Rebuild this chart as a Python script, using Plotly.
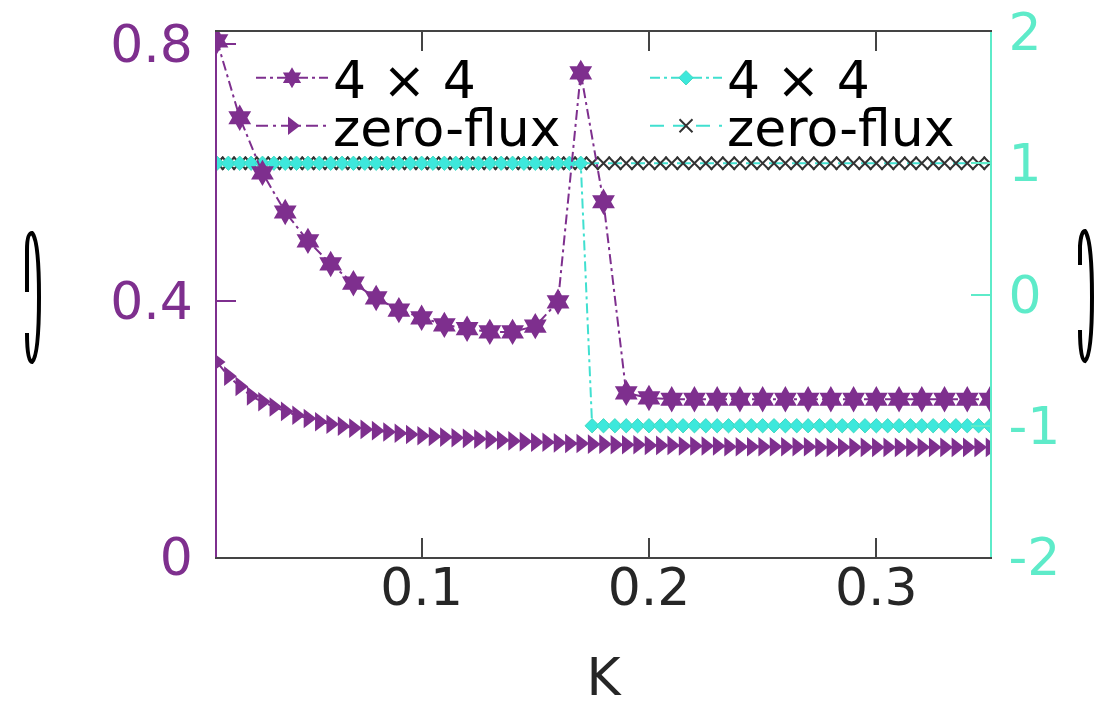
import plotly.graph_objects as go

# ---------------- data ----------------
K_coarse = [0.01, 0.02, 0.03, 0.04, 0.05, 0.06, 0.07, 0.08, 0.09, 0.10,
            0.11, 0.12, 0.13, 0.14, 0.15, 0.16, 0.17, 0.18, 0.19, 0.20,
            0.21, 0.22, 0.23, 0.24, 0.25, 0.26, 0.27, 0.28, 0.29, 0.30,
            0.31, 0.32, 0.33, 0.34, 0.35]

left_4x4 = [0.805, 0.685, 0.599, 0.538, 0.493, 0.457, 0.427, 0.404, 0.385, 0.373,
            0.362, 0.356, 0.351, 0.351, 0.360, 0.398, 0.755, 0.554, 0.256, 0.248,
            0.246, 0.246, 0.246, 0.246, 0.246, 0.246, 0.246, 0.246, 0.246, 0.246,
            0.246, 0.246, 0.246, 0.246, 0.246]

K_fine = [0.010, 0.015, 0.020, 0.025, 0.030, 0.035, 0.040, 0.045, 0.050, 0.055,
          0.060, 0.065, 0.070, 0.075, 0.080, 0.085, 0.090, 0.095, 0.100, 0.105,
          0.110, 0.115, 0.120, 0.125, 0.130, 0.135, 0.140, 0.145, 0.150, 0.155,
          0.160, 0.165, 0.170, 0.175, 0.180, 0.185, 0.190, 0.195, 0.200, 0.205,
          0.210, 0.215, 0.220, 0.225, 0.230, 0.235, 0.240, 0.245, 0.250, 0.255,
          0.260, 0.265, 0.270, 0.275, 0.280, 0.285, 0.290, 0.295, 0.300, 0.305,
          0.310, 0.315, 0.320, 0.325, 0.330, 0.335, 0.340, 0.345, 0.350]

left_zero_flux = [0.304, 0.282, 0.266, 0.251, 0.242, 0.234, 0.227, 0.221, 0.216, 0.211,
                  0.207, 0.204, 0.201, 0.199, 0.197, 0.195, 0.193, 0.191, 0.189, 0.188,
                  0.187, 0.186, 0.185, 0.184, 0.183, 0.182, 0.181, 0.180, 0.179, 0.179,
                  0.178, 0.177, 0.177, 0.176, 0.176, 0.175, 0.175, 0.175, 0.174, 0.174,
                  0.174, 0.173, 0.173, 0.173, 0.173, 0.172, 0.172, 0.172, 0.172, 0.172,
                  0.172, 0.172, 0.172, 0.171, 0.171, 0.171, 0.171, 0.171, 0.171, 0.171,
                  0.171, 0.171, 0.171, 0.171, 0.171, 0.171, 0.171, 0.171, 0.171]

right_4x4 = [1, 1, 1, 1, 1, 1, 1, 1, 1, 1,
             1, 1, 1, 1, 1, 1, 1, 1, 1, 1,
             1, 1, 1, 1, 1, 1, 1, 1, 1, 1,
             1, 1, 1, -1, -1, -1, -1, -1, -1, -1,
             -1, -1, -1, -1, -1, -1, -1, -1, -1, -1,
             -1, -1, -1, -1, -1, -1, -1, -1, -1, -1,
             -1, -1, -1, -1, -1, -1, -1, -1, -1]

right_zero_flux = [1, 1, 1, 1, 1, 1, 1, 1, 1, 1,
                   1, 1, 1, 1, 1, 1, 1, 1, 1, 1,
                   1, 1, 1, 1, 1, 1, 1, 1, 1, 1,
                   1, 1, 1, 1, 1, 1, 1, 1, 1, 1,
                   1, 1, 1, 1, 1, 1, 1, 1, 1, 1,
                   1, 1, 1, 1, 1, 1, 1, 1, 1, 1,
                   1, 1, 1, 1, 1, 1, 1, 1, 1]

x_ticks = [0.1, 0.2, 0.3]
x_ticktext = ["0.1", "0.2", "0.3"]
left_ticks = [0, 0.4, 0.8]
left_ticktext = ["0", "0.4", "0.8"]
right_ticks = [-2, -1, 0, 1, 2]
right_ticktext = ["-2", "-1", "0", "1", "2"]

# ---------------- style ----------------
PURPLE = "#7E2F8E"
CYAN_LINE = "#40E0D0"
CYAN_MARK = "#3DE8DC"
AQUA_AXIS = "#5EEBC9"
DARK = "#262626"
FONT = "DejaVu Sans"
FS = 52

W, H = 1104, 707
L, R, T, B = 217, 990, 32, 557


def px2paper(x, y):
    return (x - L) / (R - L), (B - y) / (B - T)


def path_from_px(cmds):
    out = []
    for c in cmds:
        if isinstance(c, str):
            out.append(c)
        else:
            px, py = px2paper(*c)
            out.append(f"{px:.5f},{py:.5f}")
    return " ".join(out)


fig = go.Figure()

# right-axis (cyan) traces
fig.add_trace(go.Scatter(
    x=K_fine, y=right_zero_flux, yaxis="y", name="zero-flux",
    mode="lines+markers",
    line=dict(color=CYAN_LINE, width=2, dash="14px,9px"),
    marker=dict(symbol="x-thin", size=13, line=dict(color="#333333", width=2)),
    legend="legend4",
))
fig.add_trace(go.Scatter(
    x=K_fine, y=right_4x4, yaxis="y", name="4 × 4",
    mode="lines+markers",
    line=dict(color=CYAN_LINE, width=2, dash="10px,4px,3px,4px"),
    marker=dict(symbol="diamond", size=11, color=CYAN_MARK,
                line=dict(color="#3FD9C0", width=1)),
    legend="legend3",
))

# left-axis (purple) traces
fig.add_trace(go.Scatter(
    x=K_fine, y=left_zero_flux, yaxis="y2", name="zero-flux",
    mode="lines+markers",
    line=dict(color=PURPLE, width=2, dash="12px,5px,3px,5px"),
    marker=dict(symbol="triangle-right", size=17, color=PURPLE),
    legend="legend2",
))
fig.add_trace(go.Scatter(
    x=K_coarse, y=left_4x4, yaxis="y2", name="4 × 4",
    mode="lines+markers",
    line=dict(color=PURPLE, width=2, dash="10px,4px,3px,4px"),
    marker=dict(symbol="hexagram", size=20, color=PURPLE),
    legend="legend",
))

leg_common = dict(
    font=dict(family=FONT, size=FS, color="black"),
    bgcolor="rgba(0,0,0,0)", borderwidth=0, itemwidth=72,
    xanchor="left", yanchor="middle", xref="paper", yref="paper",
)
lx1, _ = px2paper(251, 0)
lx2, _ = px2paper(645, 0)
_, ly1 = px2paper(0, 78)
_, ly2 = px2paper(0, 126)

# y-label glyphs (decorative strokes as in the reference)
left_glyph = path_from_px([
    "M", (27, 292), "L", (27, 250), "Q", (27, 233), (32, 233),
    "Q", (39, 240), (39, 297), "Q", (39, 356), (32, 362),
    "Q", (27, 362), (27, 333),
])
right_glyph = path_from_px([
    "M", (1080, 265), "L", (1080, 246), "Q", (1081, 231), (1085, 231),
    "Q", (1092, 240), (1092, 297), "Q", (1092, 355), (1085, 361),
    "Q", (1080, 360), (1080, 330),
])

fig.update_layout(
    width=W, height=H,
    margin=dict(l=L, r=W - R, t=T, b=H - B, pad=0, autoexpand=False),
    paper_bgcolor="white", plot_bgcolor="white",
    font=dict(family=FONT, size=FS, color=DARK),
    showlegend=True,
    legend=dict(x=lx1, y=ly1, **leg_common),
    legend2=dict(x=lx1, y=ly2, **leg_common),
    legend3=dict(x=lx2, y=ly1, **leg_common),
    legend4=dict(x=lx2, y=ly2, **leg_common),
    xaxis=dict(
        range=[0.01, 0.35], tickvals=x_ticks, ticktext=x_ticktext,
        ticks="inside", ticklen=19, tickwidth=1.5, tickcolor="#444444",
        showline=True, linecolor="#444444", linewidth=1.5, mirror="ticks",
        showgrid=False, zeroline=False, automargin=False,
        tickfont=dict(family=FONT, size=FS, color=DARK),
        ticklabelstandoff=-16,
        title=dict(text="K", font=dict(family=FONT, size=FS, color=DARK), standoff=52),
    ),
    yaxis=dict(
        side="right", range=[-2, 2], tickvals=right_ticks, ticktext=right_ticktext,
        ticks="inside", ticklen=19, tickwidth=1.5, tickcolor=AQUA_AXIS,
        showline=True, linecolor=AQUA_AXIS, linewidth=2,
        showgrid=False, zeroline=False, automargin=False,
        tickfont=dict(family=FONT, size=FS, color=AQUA_AXIS),
        ticklabelstandoff=6,
    ),
    yaxis2=dict(
        side="left", overlaying="y", range=[0, 0.8187],
        tickvals=left_ticks, ticktext=left_ticktext,
        ticks="inside", ticklen=19, tickwidth=1.5, tickcolor=PURPLE,
        showline=True, linecolor=PURPLE, linewidth=1.5,
        showgrid=False, zeroline=False, automargin=False,
        tickfont=dict(family=FONT, size=FS, color=PURPLE),
        ticklabelstandoff=12,
    ),
    shapes=[
        dict(type="path", path=left_glyph, xref="paper", yref="paper",
             line=dict(color="black", width=4)),
        dict(type="path", path=right_glyph, xref="paper", yref="paper",
             line=dict(color="black", width=4)),
    ],
)

fig.write_html("out.html")
